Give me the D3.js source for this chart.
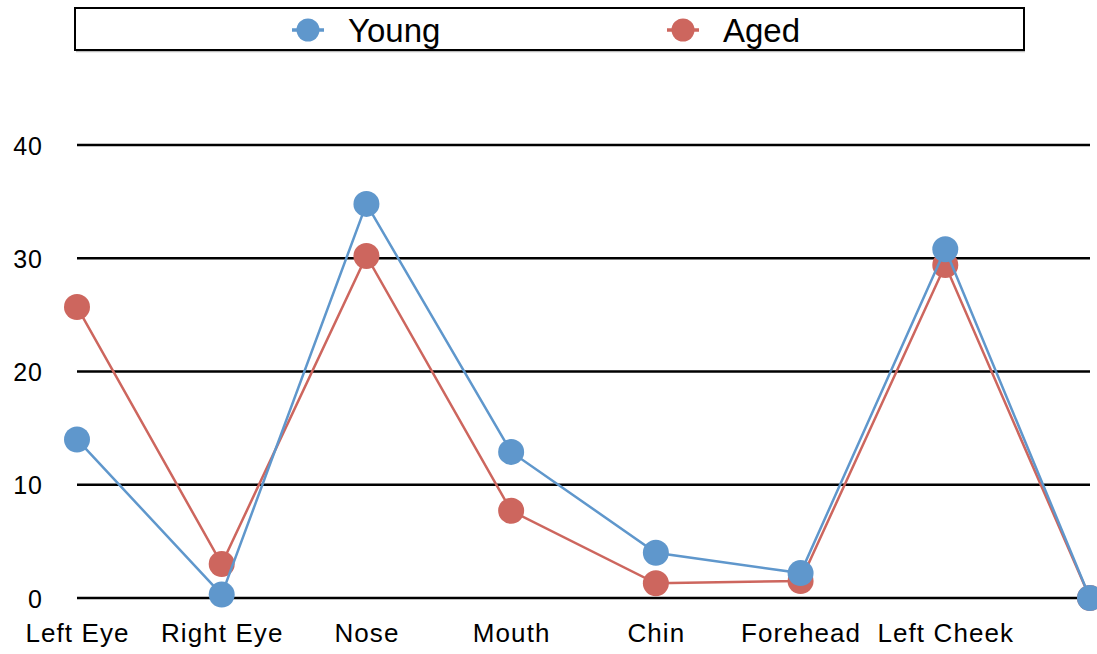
<!DOCTYPE html>
<html>
<head>
<meta charset="utf-8">
<script src="https://cdn.jsdelivr.net/npm/d3@7"></script>
<style>
  body { margin: 0; background: #fff; }
  text { font-family: "Liberation Sans", Arial, Helvetica, sans-serif; fill: #000; }
</style>
</head>
<body>
<div id="chart"></div>
<script>
// categories along the x axis (last one has no visible label in the source)
const categories = ['Left Eye', 'Right Eye', 'Nose', 'Mouth', 'Chin', 'Forehead', 'Left Cheek', 'Right Cheek'];
const shownLabels = ['Left Eye', 'Right Eye', 'Nose', 'Mouth', 'Chin', 'Forehead', 'Left Cheek'];
const young = [14.0, 0.3, 34.8, 12.9, 4.0, 2.2, 30.8, 0];
const aged = [25.7, 3.0, 30.2, 7.7, 1.3, 1.5, 29.4, 0];
const yTicks = [0, 10, 20, 30, 40];

const seriesList = [
  { name: 'Aged', values: aged, color: '#cd665e' },
  { name: 'Young', values: young, color: '#5f97cc' }
];

const width = 1097, height = 654;
const svg = d3.select('#chart').append('svg')
  .attr('width', width)
  .attr('height', height)
  .style('display', 'block');

const x = d3.scalePoint().domain(categories).range([77, 1090]);
const y = d3.scaleLinear().domain([0, 40]).range([598, 145]);

// horizontal grid lines
const grid = svg.append('g');
grid.selectAll('line')
  .data(yTicks)
  .join('line')
  .attr('x1', 77)
  .attr('x2', 1090)
  .attr('y1', d => y(d))
  .attr('y2', d => y(d))
  .attr('stroke', '#000')
  .attr('stroke-width', 2.5);

// y axis labels
const yAxis = d3.axisLeft(y).tickValues(yTicks).tickSize(0).tickPadding(0);
const yg = svg.append('g').attr('transform', 'translate(43,0)').call(yAxis);
yg.select('.domain').remove();
yg.selectAll('text')
  .attr('font-size', 25)
  .attr('letter-spacing', 1)
  .attr('dy', '0.36em');

// x axis labels
const xAxis = d3.axisBottom(x).tickSize(0).tickPadding(0)
  .tickFormat(d => shownLabels.includes(d) ? d : '');
const xg = svg.append('g').attr('transform', 'translate(0,624)').call(xAxis);
xg.select('.domain').remove();
xg.selectAll('text')
  .attr('font-size', 26)
  .attr('letter-spacing', 1.1)
  .attr('dy', '0.7em');

// lines and markers
const line = d3.line()
  .x((d, i) => x(categories[i]))
  .y(d => y(d));

seriesList.forEach(s => {
  const g = svg.append('g');
  g.append('path')
    .datum(s.values)
    .attr('d', line)
    .attr('fill', 'none')
    .attr('stroke', s.color)
    .attr('stroke-width', 2.5);
  g.selectAll('circle')
    .data(s.values)
    .join('circle')
    .attr('cx', (d, i) => x(categories[i]))
    .attr('cy', d => y(d))
    .attr('r', 13)
    .attr('fill', s.color);
});

// legend
const legend = svg.append('g');
legend.append('line')
  .attr('x1', 76).attr('x2', 1025)
  .attr('y1', 51.5).attr('y2', 51.5)
  .attr('stroke', '#bbb').attr('stroke-width', 1.5);
legend.append('rect')
  .attr('x', 75).attr('y', 8)
  .attr('width', 949).attr('height', 42)
  .attr('fill', '#fff')
  .attr('stroke', '#000')
  .attr('stroke-width', 2);

const legendItems = [
  { name: 'Young', color: '#5f97cc', cx: 308 },
  { name: 'Aged', color: '#cd665e', cx: 683 }
];
const li = legend.selectAll('g.item')
  .data(legendItems)
  .join('g')
  .attr('class', 'item')
  .attr('transform', d => `translate(${d.cx},30)`);
li.append('line')
  .attr('x1', -16).attr('x2', 16)
  .attr('stroke', d => d.color)
  .attr('stroke-width', 3.5);
li.append('circle')
  .attr('r', 11.5)
  .attr('fill', d => d.color);
li.append('text')
  .attr('x', 40)
  .attr('y', 11.5)
  .attr('font-size', 33)
  .text(d => d.name);
</script>
</body>
</html>
